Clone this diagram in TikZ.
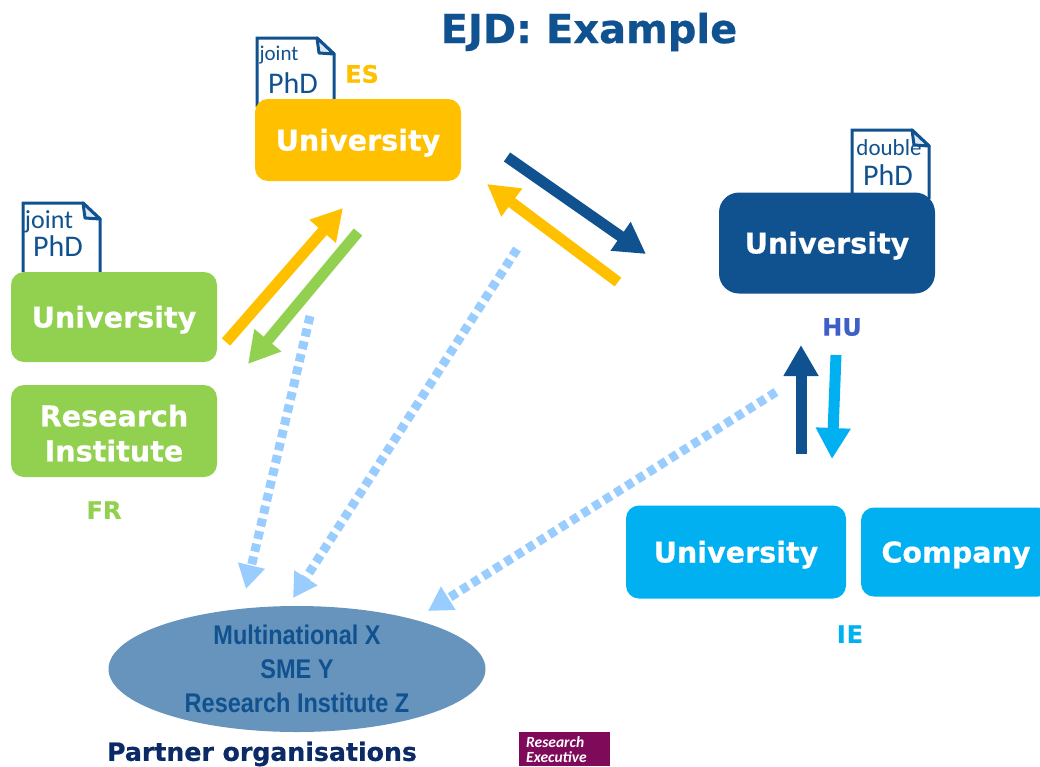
\documentclass[tikz,border=0pt]{standalone}
\usepackage{fontspec}
\setmainfont{DejaVu Sans}[BoldFeatures={FakeBold=0.5}]
\newfontfamily\docfont{Carlito}
\newfontfamily\narrowfont[FakeStretch=0.87]{Liberation Sans}
\newfontfamily\logofont{Carlito}
\usepackage{tikz}
\usetikzlibrary{arrows.meta,shapes.geometric}
\definecolor{navy}{HTML}{10528F}
\definecolor{es}{HTML}{FFC000}
\definecolor{fr}{HTML}{92D050}
\definecolor{ie}{HTML}{00B0F0}
\definecolor{hu}{HTML}{3F5FC8}
\definecolor{oval}{HTML}{6794BC}
\definecolor{light}{HTML}{99CCFF}
\definecolor{dark}{HTML}{0B2A66}
\definecolor{rea}{HTML}{7F0A5A}
\definecolor{fold}{HTML}{DCE8F4}
\tikzset{
  uni/.style={rounded corners=13pt,text=white,inner sep=0pt,align=center,
    font=\fontsize{28.6}{35}\selectfont\bfseries},
  unione/.style={uni,text height=21pt,text depth=0pt},
  tag/.style={inner sep=0pt,font=\fontsize{24}{28}\selectfont\bfseries},
  link/.style={line width=11pt,-{Triangle[length=31pt,width=33pt]}},
  partner/.style={line width=9pt,dash pattern=on 8pt off 5pt,
    -{Triangle[length=24pt,width=26pt]},light},
  doc/.pic={
    \draw[navy,line width=3pt,fill=white] (0,69) -- (0,0) -- (60,0) -- (77,16) -- (77,69);
    \draw[navy,line width=3pt,fill=fold,line join=round] (60,0) -- (62,15) -- (77,16) -- cycle;
  }
}
\begin{document}
\begin{tikzpicture}[x=1pt,y=-1pt]
\useasboundingbox (0,0) rectangle (1040,766);
\node[navy,inner sep=0pt,font=\fontsize{40}{48}\selectfont\bfseries] (title) at (589,32) {EJD: Example};
\path (23,203) pic {doc};
\path (257,38) pic {doc};
\path (852,130) pic {doc};
\node[navy,inner sep=0pt,font=\docfont\fontsize{26}{30}\selectfont] (jointfr) at (49,222) {joint};
\node[navy,inner sep=0pt,font=\docfont\fontsize{30}{34}\selectfont] (phdfr) at (58,246) {PhD};
\node[navy,inner sep=0pt,font=\docfont\fontsize{21}{24}\selectfont] (jointes) at (279,55) {joint};
\node[navy,inner sep=0pt,font=\docfont\fontsize{30}{34}\selectfont] (phdes) at (293,83) {PhD};
\node[navy,inner sep=0pt,font=\docfont\fontsize{23}{26}\selectfont] (doublehu) at (889,148) {double};
\node[navy,inner sep=0pt,font=\docfont\fontsize{30}{34}\selectfont] (phdhu) at (888,175) {PhD};
\node[unione,fill=es,minimum width=206pt,minimum height=82pt] (esuni) at (358,140) {University};
\node[unione,fill=fr,minimum width=206pt,minimum height=90pt] (fruni) at (114,317) {University};
\node[uni,fill=fr,minimum width=206pt,minimum height=92pt] (frinst) at (114,431) {\rule{0pt}{26pt}Research\\Institute};
\node[unione,rounded corners=20pt,fill=navy,minimum width=216pt,minimum height=101pt] (huuni) at (827,243) {University};
\node[unione,fill=ie,minimum width=220pt,minimum height=93pt] (ieuni) at (736,552) {University};
\node[unione,fill=ie,minimum width=190pt,minimum height=89pt] (iecomp) at (956,552) {Company};
\node[tag,text=es] (es) at (362,74) {ES};
\node[tag,text=fr] (frlab) at (104,510) {FR};
\node[tag,text=hu] (hulab) at (842,327) {HU};
\node[tag,text=ie] (ielab) at (850,634) {I\kern1pt E};
\node[ellipse,fill=oval,minimum width=377pt,minimum height=126pt,inner sep=0pt,text=navy,align=center,
  font=\narrowfont\fontsize{27}{34}\selectfont\bfseries] (partners) at (297,669) {Multinational X\\SME Y\\Research Institute Z};
\node[dark,inner sep=0pt,font=\fontsize{25.2}{30}\selectfont\bfseries] (partnerlab) at (262,754) {Partner organisations};
\fill[rea] (519,732) rectangle (610,766);
\node[white,anchor=north west,inner sep=0pt,align=left,font=\logofont\fontsize{15.5}{15}\selectfont\itshape\bfseries] (rea) at (526,736) {Research\\Executive};
\coordinate (a1) at (226,342); \coordinate (a2) at (343,208);
\coordinate (b1) at (358,232); \coordinate (b2) at (248,364);
\coordinate (c1) at (507,157); \coordinate (c2) at (646,254);
\coordinate (d1) at (618,282); \coordinate (d2) at (487,184);
\coordinate (e1) at (801,454); \coordinate (e2) at (801,345);
\coordinate (f1) at (836,355); \coordinate (f2) at (832,459);
\coordinate (g1) at (310,316); \coordinate (g2) at (246,589);
\coordinate (h1) at (517,249); \coordinate (h2) at (293,598);
\coordinate (k1) at (776,392); \coordinate (k2) at (428,611);
\draw[link,es] (a1) -- (a2);
\draw[link,fr] (b1) -- (b2);
\draw[link,navy] (c1) -- (c2);
\draw[link,es] (d1) -- (d2);
\draw[link,navy] (e1) -- (e2);
\draw[link,ie] (f1) -- (f2);
\draw[partner] (g1) -- (g2);
\draw[partner] (h1) -- (h2);
\draw[partner] (k1) -- (k2);
\end{tikzpicture}
\end{document}
